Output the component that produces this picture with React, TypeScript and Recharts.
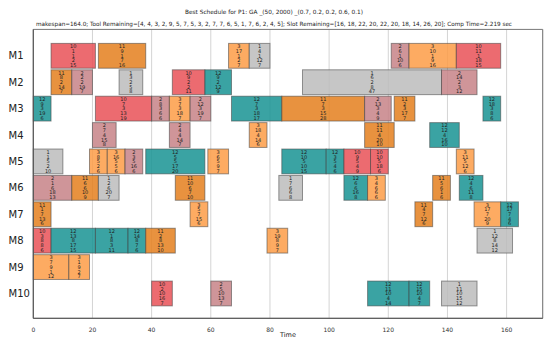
import React from "react";
import { ComposedChart, XAxis, YAxis, CartesianGrid, ReferenceArea } from "recharts";

// [start, end, [tool, op, machine, slot, duration]]
type Task = [number, number, number[]];

const machines = ["M1", "M2", "M3", "M4", "M5", "M6", "M7", "M8", "M9", "M10"];

const m1: Task[] = [
  [6, 21, [10, 1, 1, 2, 15]], [22, 38, [11, 9, 1, 7, 16]], [66, 73, [3, 17, 1, 2, 7]],
  [73, 80, [1, 4, 1, 12, 7]], [121, 127, [2, 6, 1, 10, 6]], [127, 143, [3, 10, 1, 9, 16]],
  [143, 158, [10, 11, 1, 18, 15]],
];
const m2: Task[] = [
  [6, 13, [11, 8, 2, 14, 7]], [13, 20, [2, 2, 2, 19, 7]], [29, 37, [1, 3, 2, 5, 8]],
  [47, 58, [10, 9, 2, 2, 11]], [58, 67, [12, 9, 2, 12, 9]], [91, 138, [1, 6, 2, 8, 47]],
  [138, 150, [2, 14, 2, 3, 12]],
];
const m3: Task[] = [
  [0, 6, [12, 9, 3, 19, 6]], [21, 40, [10, 7, 3, 13, 19]], [40, 46, [2, 8, 3, 6, 6]],
  [46, 53, [3, 7, 3, 18, 7]], [53, 60, [2, 12, 3, 19, 7]], [67, 84, [12, 7, 3, 18, 17]],
  [84, 112, [11, 7, 3, 15, 28]], [112, 121, [2, 13, 3, 4, 9]], [122, 129, [11, 2, 3, 17, 7]],
  [152, 158, [12, 18, 3, 8, 6]],
];
const m4: Task[] = [
  [20, 28, [2, 7, 4, 15, 8]], [46, 53, [2, 4, 4, 14, 7]], [73, 79, [3, 18, 4, 14, 6]],
  [112, 122, [11, 11, 4, 20, 10]], [134, 144, [12, 12, 4, 16, 10]],
];
const m5: Task[] = [
  [0, 10, [1, 1, 5, 2, 10]], [19, 25, [3, 8, 5, 2, 6]], [25, 31, [3, 16, 5, 5, 6]],
  [31, 37, [2, 3, 5, 16, 6]], [38, 58, [12, 5, 5, 17, 20]], [59, 66, [3, 6, 5, 9, 7]],
  [84, 99, [12, 10, 5, 10, 15]], [99, 105, [12, 3, 5, 4, 6]], [105, 114, [10, 9, 5, 4, 9]],
  [114, 120, [10, 10, 5, 18, 6]], [143, 149, [3, 11, 5, 12, 6]],
];
const m6: Task[] = [
  [0, 13, [2, 1, 6, 18, 13]], [13, 22, [11, 6, 6, 10, 9]], [22, 29, [1, 2, 6, 20, 7]],
  [48, 58, [11, 10, 6, 7, 10]], [83, 91, [1, 7, 6, 6, 8]], [105, 113, [12, 6, 6, 16, 8]],
  [113, 119, [3, 4, 6, 6, 6]], [135, 141, [11, 5, 6, 1, 6]], [144, 152, [12, 4, 6, 11, 8]],
];
const m7: Task[] = [
  [0, 6, [11, 1, 7, 13, 6]], [53, 59, [3, 5, 7, 15, 6]], [129, 135, [11, 4, 7, 12, 6]],
  [149, 158, [3, 17, 7, 20, 9]], [158, 164, [12, 17, 7, 4, 6]],
];
const m8: Task[] = [
  [0, 6, [10, 3, 8, 8, 6]], [6, 21, [12, 13, 8, 17, 15]], [21, 32, [12, 1, 8, 3, 11]],
  [32, 38, [12, 14, 8, 7, 6]], [38, 48, [11, 2, 8, 13, 10]], [79, 86, [3, 19, 8, 9, 7]],
  [150, 162, [1, 12, 8, 14, 12]],
];
const m9: Task[] = [
  [0, 12, [3, 7, 9, 1, 12]], [12, 19, [3, 1, 9, 2, 7]],
];
const m10: Task[] = [
  [40, 47, [10, 2, 10, 16, 7]], [60, 67, [2, 5, 10, 13, 7]], [113, 127, [12, 11, 10, 4, 14]],
  [127, 134, [12, 15, 10, 4, 7]], [138, 150, [1, 11, 10, 15, 12]],
];

const schedule = [m1, m2, m3, m4, m5, m6, m7, m8, m9, m10];
const timeTicks = [0, 20, 40, 60, 80, 100, 120, 140, 160];
const machineTicks = [1, 2, 3, 4, 5, 6, 7, 8, 9, 10];

const toolColors: Record<number, string> = {
  10: "#E95157",
  11: "#E47F1D",
  3: "#FD9C46",
  12: "#179393",
  2: "#C78387",
  1: "#BCBCBC",
};

const title1 = "Best Schedule for P1:   GA _(50, 2000) _(0.7, 0.2, 0.2, 0.6, 0.1)";
const title2 =
  "makespan=164.0; Tool Remaining=[4, 4, 3, 2, 9, 5, 7, 5, 3, 2, 7, 7, 6, 5, 1, 7, 6, 2, 4, 5]; Slot Remaining=[16, 18, 22, 20, 22, 20, 18, 14, 26, 20]; Comp Time=2.219 sec";

const font = "DejaVu Sans, sans-serif";

const TaskBox = (props: any) => {
  const { x, y, width, height, lines } = props;
  const color = toolColors[lines[0]] || "#bbb";
  const cx = x + width / 2;
  const step = 4.7;
  const top = y + height / 2 - step * 2;
  return (
    <g>
      <rect x={x} y={y} width={width} height={height} fill={color} fillOpacity={0.85}
        stroke="#444" strokeOpacity={0.55} strokeWidth={1} />
      <text x={cx} y={top} textAnchor="middle" fontSize={5} fontFamily={font} fill="#222">
        {lines.map((v: number, i: number) => (
          <tspan key={i} x={cx} y={top + i * step} dy={1.8}>{v}</tspan>
        ))}
      </text>
    </g>
  );
};

const MachineTick = (props: any) => {
  const { y, payload } = props;
  return (
    <text x={8.5} y={y} dy={3.6} textAnchor="start" fontSize={10} fontFamily={font} fill="#222">
      {machines[payload.value - 1]}
    </text>
  );
};

export default function App() {
  return (
    <div style={{ position: "absolute", left: 0, top: 0, width: 550, height: 342, background: "#fff" }}>
      <svg width={550} height={30} style={{ position: "absolute", left: 0, top: 0 }}>
        <text x={274} y={13.5} textAnchor="middle" fontSize={5.8} fontFamily={font} fill="#222"
          textLength={178} lengthAdjust="spacingAndGlyphs">{title1}</text>
        <text x={274} y={26.3} textAnchor="middle" fontSize={5.8} fontFamily={font} fill="#222"
          textLength={476} lengthAdjust="spacingAndGlyphs">{title2}</text>
      </svg>
      <ComposedChart width={550} height={342} margin={{ top: 29.4, right: 7.3, left: 0, bottom: 0 }}>
        <CartesianGrid vertical horizontal={false} stroke="#d4d4d4" strokeWidth={1} />
        <XAxis type="number" dataKey="t" domain={[0, 172.2]} allowDataOverflow ticks={timeTicks}
          height={23.7} tickLine={false} axisLine={{ stroke: "#555" }} tickMargin={3}
          tick={{ fontSize: 6, fontFamily: font, fill: "#333" }}
          label={{ value: "Time", position: "insideBottom", offset: 5, fontSize: 6.5, fontFamily: font, fill: "#222" }} />
        <YAxis type="number" dataKey="m" domain={[0, 10.94]} allowDataOverflow reversed ticks={machineTicks}
          interval={0} width={33.3} tickLine={false} axisLine={{ stroke: "#555" }} tick={<MachineTick />} />
        <ReferenceArea x1={0} x2={172.2} y1={0} y2={10.94} fill="none" stroke="#777" strokeWidth={1}
          ifOverflow="visible" />
        {schedule.flatMap((tasks, mi) =>
          tasks.map(([start, end, lab], ti) => (
            <ReferenceArea
              key={`${mi}-${ti}`}
              x1={start}
              x2={end}
              y1={mi + 1 - 0.47}
              y2={mi + 1 + 0.47}
              ifOverflow="visible"
              shape={(p: any) => <TaskBox {...p} lines={lab} />}
            />
          ))
        )}
      </ComposedChart>
    </div>
  );
}
